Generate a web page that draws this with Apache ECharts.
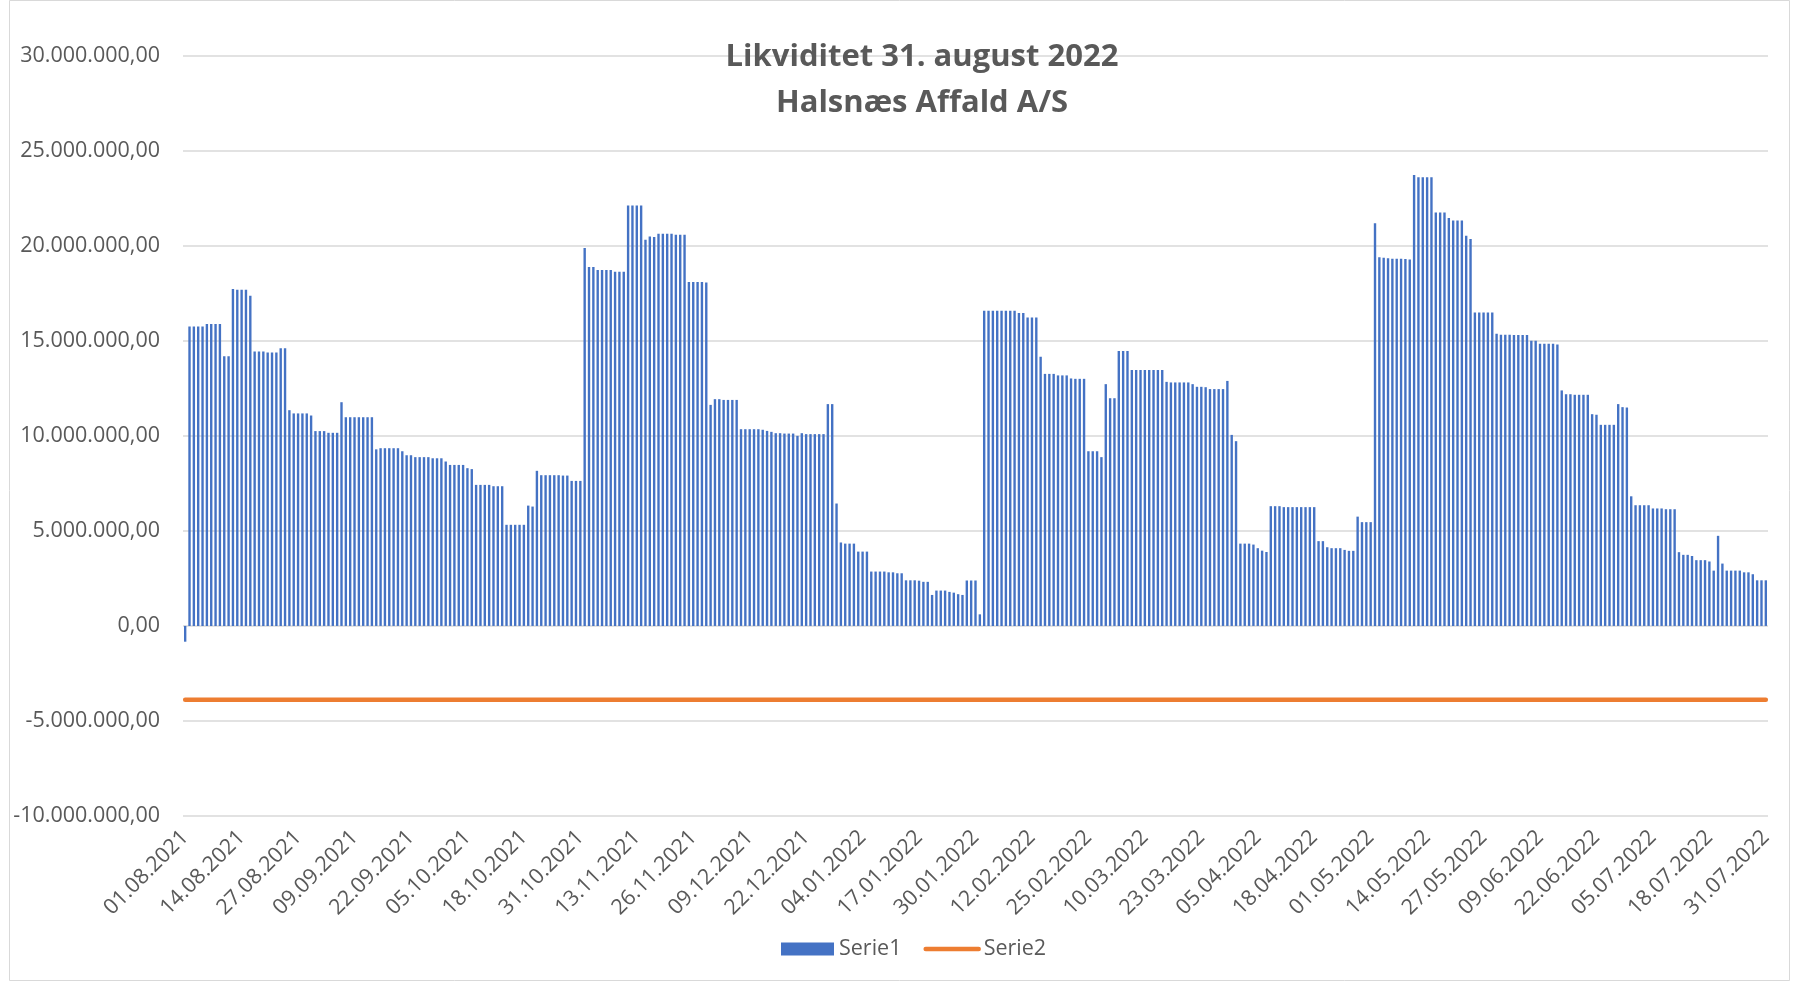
<!DOCTYPE html>
<html>
<head>
<meta charset="utf-8">
<script src="https://cdn.jsdelivr.net/npm/echarts@6/dist/echarts.min.js"></script>
<style>
html,body{margin:0;padding:0;background:#fff;}
#chart{width:1793px;height:982px;}
</style>
</head>
<body>
<div id="chart"></div>
<script>
// Title lines
const titleLines = ['Likviditet 31. august 2022', 'Halsnæs Affald A/S'];
const seriesNames = ['Serie1', 'Serie2'];

// Categories: one per day, 01.08.2021 .. 31.07.2022
const startDate = [2021, 7, 1];
const dayCount = 365;
const categories = [];
for (let i = 0; i < dayCount; i++) {
  const d = new Date(Date.UTC(startDate[0], startDate[1], startDate[2] + i));
  const dd = String(d.getUTCDate()).padStart(2, '0');
  const mm = String(d.getUTCMonth() + 1).padStart(2, '0');
  categories.push(dd + '.' + mm + '.' + d.getUTCFullYear());
}

// Serie1: daily liquidity, in millions of kroner
const serie1Millions = [
  -0.83, 15.75,15.75,15.75,15.75, 15.88,15.88,15.88,15.88, 14.19,14.19, 17.72,17.68,17.68,17.68, 17.37, 14.44,14.44,14.44, 14.39,14.39,14.39, 14.61,14.61,
  11.35, 11.18,11.18,11.18,11.18, 11.07, 10.25,10.25,10.25, 10.16,10.16,10.16, 11.77, 10.98,10.98,10.98,10.98,10.98,10.98,10.98, 9.29, 9.35,9.35,9.35,9.35,9.35,
  9.19, 8.98,8.98, 8.88,8.88,8.88,8.88, 8.82,8.82,8.82, 8.65, 8.47,8.47,8.47,8.47, 8.30, 8.25, 7.42,7.42,7.42,7.42, 7.35,7.35,7.35, 5.32,5.32,5.32,5.32,5.32, 6.33, 6.28, 8.16, 7.93,7.93,7.93,7.93,7.93, 7.91,7.91, 7.63,7.63,7.63,
  19.88, 18.88,18.88, 18.72,18.72,18.72,18.72, 18.63,18.63,18.63, 22.12,22.12,22.12,22.12, 20.32, 20.49, 20.46, 20.63,20.63,20.63,20.63, 20.58,20.58,20.58, 18.10,18.10,18.10,18.10, 18.07,
  11.63, 11.93,11.93, 11.89,11.89,11.89,11.89, 10.35,10.35,10.35,10.35,10.35, 10.32, 10.26, 10.21, 10.14,10.14, 10.12,10.12,10.12, 10.00, 10.14, 10.09,10.09,10.09,10.09,10.09, 11.67,11.67,
  6.44, 4.39, 4.33,4.33,4.33, 3.91,3.91,3.91, 2.86,2.86,2.86,2.86, 2.82,2.82, 2.77,2.77, 2.40,2.40,2.40, 2.38, 2.32,2.32, 1.63, 1.86,1.86,1.86, 1.79, 1.75, 1.67, 1.63, 2.39,2.39,2.39, 0.61,
  16.58,16.58,16.58,16.58,16.58,16.58,16.58,16.58, 16.46,16.46, 16.23,16.23,16.23, 14.16, 13.26,13.26,13.26, 13.18,13.18,13.18, 13.02, 13.00,13.00,13.00, 9.19,9.19,9.19, 8.88,
  12.72, 11.98,11.98, 14.47,14.47,14.47, 13.47,13.47,13.47,13.47,13.47,13.47,13.47,13.47, 12.84, 12.81,12.81,12.81,12.81,12.81, 12.72, 12.58,12.58, 12.56, 12.46,12.46,12.46,12.46, 12.89, 10.05, 9.72,
  4.33,4.33,4.33, 4.28, 4.09, 3.96, 3.89, 6.30,6.30,6.30, 6.25,6.25,6.25,6.25,6.25,6.25,6.25,6.25, 4.46,4.46, 4.14, 4.09,4.09,4.09, 4.00, 3.95,3.95, 5.75, 5.46,5.46,5.46,
  21.19, 19.40, 19.37, 19.35, 19.32,19.32,19.32, 19.30, 19.28, 23.72, 23.60,23.60,23.60,23.60, 21.75,21.75,21.75, 21.46, 21.33,21.33,21.33, 20.53, 20.35, 16.49,16.49,16.49,16.49,16.49,
  15.37, 15.32,15.32,15.32, 15.30,15.30,15.30,15.30, 15.00,15.00, 14.84,14.84,14.84,14.84, 14.81, 12.39, 12.19,12.19, 12.16,12.16,12.16,12.16, 11.14, 11.11, 10.58,10.58,10.58,10.58, 11.67, 11.51, 11.49,
  6.82, 6.35,6.35,6.35,6.35, 6.18,6.18,6.18, 6.14,6.14,6.14, 3.88, 3.74,3.74, 3.68, 3.46,3.46,3.46, 3.39, 2.91, 4.74, 3.28, 2.91,2.91,2.91,2.91, 2.82,2.82, 2.72, 2.40,2.40,2.40
];

// Serie2: constant level, in millions
const serie2LevelMillions = -3.89;
const serie2Millions = categories.map(() => serie2LevelMillions);

// Value axis ticks, in millions
const yMin = -10, yMax = 30, yStep = 5;

function fmtDK(vMillions) {
  const n = Math.round(vMillions * 1e6);
  const neg = n < 0;
  const s = String(Math.abs(n)).replace(/\B(?=(\d{3})+(?!\d))/g, '.');
  return (neg ? '-' : '') + s + ',00';
}

const FONT = '"Open Sans", "Noto Sans", sans-serif';
const GREY = '#595959';
const AXIS_FS = 21.5;

const chart = echarts.init(document.getElementById('chart'), null, {renderer: 'canvas'});
chart.setOption({
  animation: false,
  backgroundColor: '#ffffff',
  title: {
    text: titleLines.join('\n'),
    left: 917,
    textAlign: 'center',
    top: 29,
    textStyle: {fontFamily: FONT, fontSize: 31, fontWeight: 'bold', color: GREY, lineHeight: 46}
  },
  legend: {
    data: [
      {name: seriesNames[0], icon: 'rect'},
      {name: seriesNames[1], itemStyle: {opacity: 0}, lineStyle: {width: 4.5, cap: 'round'}}
    ],
    left: 776,
    top: 933,
    itemWidth: 53,
    itemHeight: 13,
    itemGap: 22,
    textStyle: {fontFamily: FONT, fontSize: AXIS_FS, color: GREY}
  },
  grid: {left: 183, right: 25, top: 55.7, bottom: 166, containLabel: false},
  xAxis: {
    type: 'category',
    data: categories,
    boundaryGap: true,
    axisLine: {show: false},
    axisTick: {show: false},
    axisLabel: {
      interval: 12,
      rotate: 45,
      margin: 18,
      fontFamily: FONT,
      fontSize: AXIS_FS,
      color: GREY
    },
    splitLine: {show: false}
  },
  yAxis: {
    type: 'value',
    min: yMin,
    max: yMax,
    interval: yStep,
    axisLine: {show: false},
    axisTick: {show: false},
    axisLabel: {
      formatter: fmtDK,
      margin: 23,
      fontFamily: FONT,
      fontSize: AXIS_FS,
      color: GREY
    },
    splitLine: {lineStyle: {color: '#d9d9d9', width: 1.5}}
  },
  series: [
    {
      name: seriesNames[0],
      type: 'bar',
      data: serie1Millions,
      barWidth: '55%',
      itemStyle: {color: '#4472C4'},
      z: 2
    },
    {
      name: seriesNames[1],
      type: 'line',
      data: serie2Millions,
      symbol: 'none',
      showSymbol: false,
      lineStyle: {color: '#ED7D31', width: 4.5, cap: 'round'},
      itemStyle: {color: '#ED7D31'},
      z: 3
    }
  ],
  graphic: [
    {
      type: 'rect',
      shape: {x: 9.5, y: 0.5, width: 1780, height: 980},
      style: {fill: 'none', stroke: '#d9d9d9', lineWidth: 1},
      silent: true,
      z: -1
    }
  ]
});
</script>
</body>
</html>
